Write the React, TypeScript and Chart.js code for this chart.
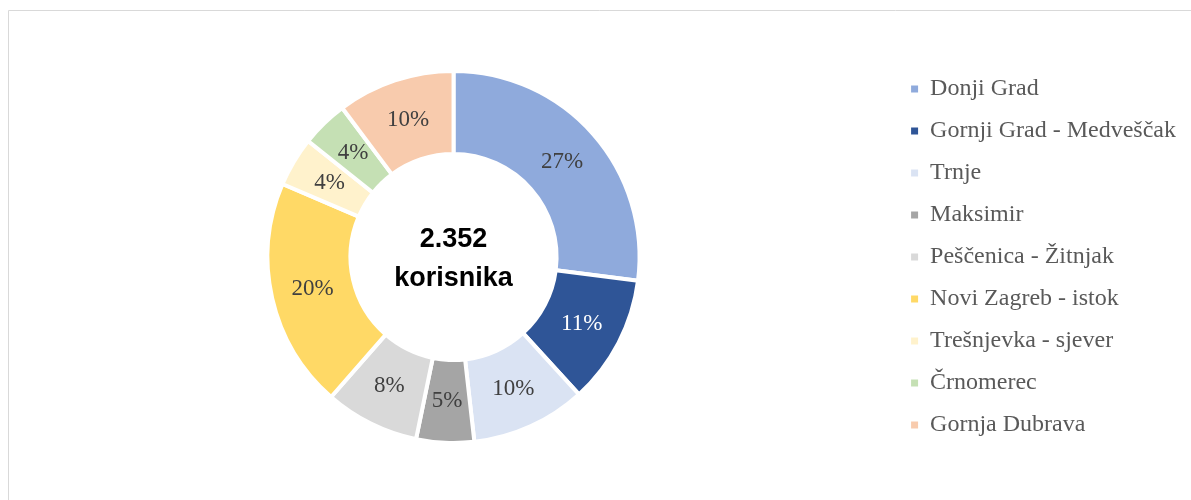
import React, { useEffect, useRef } from "react";
import { Chart, registerables } from "chart.js";

Chart.register(...registerables);

const categories = [
  "Donji Grad",
  "Gornji Grad - Medveščak",
  "Trnje",
  "Maksimir",
  "Peščenica - Žitnjak",
  "Novi Zagreb - istok",
  "Trešnjevka - sjever",
  "Črnomerec",
  "Gornja Dubrava",
];
const users = [636, 263, 235, 118, 193, 470, 101, 96, 240];
const sliceColors = [
  "#8FAADC",
  "#2F5597",
  "#DAE3F3",
  "#A5A5A5",
  "#D9D9D9",
  "#FFD966",
  "#FFF2CC",
  "#C5E0B4",
  "#F8CBAD",
];
const labelColors = ["#404040", "#FFFFFF", "#404040", "#404040", "#404040", "#404040", "#404040", "#404040", "#404040"];
const centerLines = ["2.352", "korisnika"];

const framePlugin = {
  id: "frame",
  beforeDraw(chart: any) {
    const ctx = chart.ctx;
    ctx.save();
    ctx.strokeStyle = "#D9D9D9";
    ctx.lineWidth = 1;
    ctx.beginPath();
    ctx.moveTo(8.5, 500);
    ctx.lineTo(8.5, 10.5);
    ctx.lineTo(1191, 10.5);
    ctx.stroke();
    ctx.restore();
  },
};

const labelPlugin = {
  id: "sliceLabels",
  afterDatasetsDraw(chart: any) {
    const ctx = chart.ctx;
    const meta = chart.getDatasetMeta(0);
    const data = chart.data.datasets[0].data as number[];
    const total = data.reduce((a, b) => a + b, 0);
    ctx.save();
    ctx.font = "23px 'Liberation Serif', 'Times New Roman', serif";
    ctx.textAlign = "center";
    ctx.textBaseline = "middle";
    meta.data.forEach((arc: any, i: number) => {
      const p = arc.tooltipPosition();
      ctx.fillStyle = labelColors[i];
      ctx.fillText(Math.round((data[i] / total) * 100) + "%", p.x, p.y);
    });
    const first = meta.data[0];
    if (first) {
      ctx.fillStyle = "#000000";
      ctx.font = "bold 27px 'Liberation Sans', Arial, sans-serif";
      ctx.textBaseline = "alphabetic";
      ctx.fillText(centerLines[0], first.x, first.y - 10);
      ctx.fillText(centerLines[1], first.x, first.y + 29);
    }
    ctx.restore();
  },
};

export default function App() {
  const ref = useRef<HTMLCanvasElement | null>(null);
  useEffect(() => {
    document.body.style.margin = "0";
    if (!ref.current) return;
    const chart = new Chart(ref.current, {
      type: "doughnut",
      data: {
        labels: categories,
        datasets: [
          {
            data: users,
            backgroundColor: sliceColors,
            borderColor: "#FFFFFF",
            borderWidth: 4,
            hoverOffset: 0,
          },
        ],
      },
      options: {
        responsive: false,
        animation: false,
        radius: 186,
        cutout: "55.4%",
        layout: { padding: { top: 20, bottom: 6, left: 14, right: 5 } },
        plugins: {
          tooltip: { enabled: false },
          legend: {
            position: "right",
            align: "center",
            labels: {
              boxWidth: 7,
              boxHeight: 7,
              padding: 18,
              color: "#595959",
              font: { family: "'Liberation Serif', 'Times New Roman', serif", size: 24 },
              generateLabels(chart: any) {
                const ds = chart.data.datasets[0];
                return (chart.data.labels as string[]).map((t, i) => ({
                  text: t,
                  fillStyle: (ds.backgroundColor as string[])[i],
                  strokeStyle: "rgba(0,0,0,0)",
                  lineWidth: 0,
                  fontColor: "#595959",
                  hidden: false,
                  index: i,
                }));
              },
            },
          },
        },
      },
      plugins: [framePlugin, labelPlugin],
    });
    return () => chart.destroy();
  }, []);
  return (
    <div style={{ width: 1191, height: 500 }}>
      <canvas ref={ref} width={1191} height={500} />
    </div>
  );
}
